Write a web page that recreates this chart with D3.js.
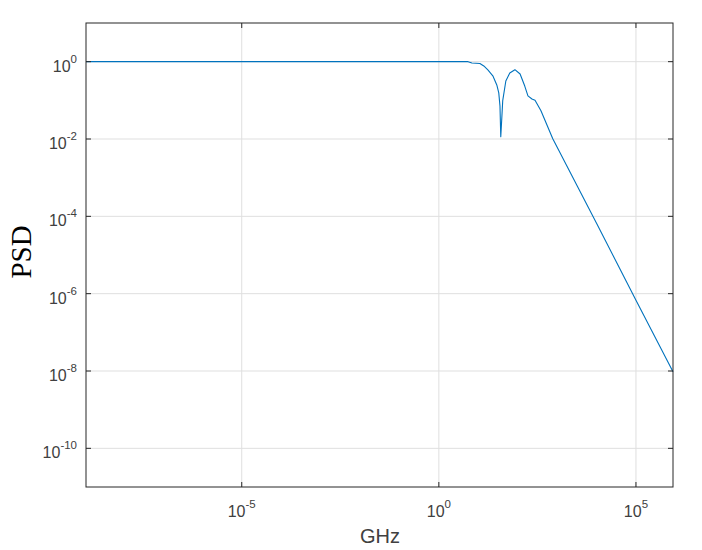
<!DOCTYPE html>
<html>
<head>
<meta charset="utf-8">
<script src="https://cdn.jsdelivr.net/npm/d3@7"></script>
<style>
  body { margin: 0; background: #fff; }
  svg { display: block; }
</style>
</head>
<body>
<svg id="chart" width="702" height="550"></svg>
<script>
// values (frequency in GHz, PSD)
let freqGHz = [1.12e-9, 5.5, 6.9, 11, 13.8, 17.5, 23.4, 29.5, 33.1, 35.5, 37.2, 39.8, 41.7,
    50, 63, 85, 115, 151, 182, 230, 275, 389, 776, 1e4, 1e5, 8.7e5];
let psd = [1, 1, 0.92, 0.90, 0.775, 0.61, 0.43, 0.25, 0.156, 0.072, 0.0115, 0.040, 0.098,
    0.316, 0.51, 0.62, 0.48, 0.234, 0.13, 0.108, 0.100, 0.054, 0.0101, 6.6e-5, 6.8e-7, 9.5e-9];

let xTicks = [1e-5, 1e0, 1e5];
let yTicks = [1e0, 1e-2, 1e-4, 1e-6, 1e-8, 1e-10];
let xDomain = [1.12e-9, 8.7e5];
let yDomain = [1e-11, 1e1];

let svg = d3.select("#chart");
let plotLeft = 86, plotTop = 23, plotRight = 673, plotBottom = 487;

let x = d3.scaleLog().domain(xDomain).range([plotLeft, plotRight]);
let y = d3.scaleLog().domain(yDomain).range([plotBottom, plotTop]);

let axisColor = "#262626";
let labelColor = "#404040";
let gridColor = "#dfdfdf";

// grid
svg.append("g").selectAll("line")
    .data(xTicks).enter().append("line")
    .attr("x1", d => x(d)).attr("x2", d => x(d))
    .attr("y1", plotTop).attr("y2", plotBottom)
    .attr("stroke", gridColor).attr("stroke-width", 1);

svg.append("g").selectAll("line")
    .data(yTicks).enter().append("line")
    .attr("x1", plotLeft).attr("x2", plotRight)
    .attr("y1", d => y(d)).attr("y2", d => y(d))
    .attr("stroke", gridColor).attr("stroke-width", 1);

// curve
let line = d3.line()
    .x((d, i) => x(freqGHz[i]))
    .y(d => y(d));

svg.append("path")
    .datum(psd)
    .attr("d", line)
    .attr("fill", "none")
    .attr("stroke", "#0072BD")
    .attr("stroke-width", 1.1)
    .attr("stroke-linejoin", "round");

// box
svg.append("rect")
    .attr("x", plotLeft).attr("y", plotTop)
    .attr("width", plotRight - plotLeft).attr("height", plotBottom - plotTop)
    .attr("fill", "none").attr("stroke", axisColor).attr("stroke-width", 1);

// ticks (inward, mirrored)
let tickLen = 5;
let tk = svg.append("g").attr("stroke", axisColor).attr("stroke-width", 1);
xTicks.forEach(d => {
    tk.append("line").attr("x1", x(d)).attr("x2", x(d)).attr("y1", plotBottom).attr("y2", plotBottom - tickLen);
    tk.append("line").attr("x1", x(d)).attr("x2", x(d)).attr("y1", plotTop).attr("y2", plotTop + tickLen);
});
yTicks.forEach(d => {
    tk.append("line").attr("x1", plotLeft).attr("x2", plotLeft + tickLen).attr("y1", y(d)).attr("y2", y(d));
    tk.append("line").attr("x1", plotRight).attr("x2", plotRight - tickLen).attr("y1", y(d)).attr("y2", y(d));
});

// tick labels with superscripts
function powLabel(g, d) {
    let e = Math.round(Math.log10(d));
    g.append("tspan").text("10");
    g.append("tspan").attr("dy", -9).attr("font-size", 11.5).text(e);
}

svg.append("g").selectAll("text")
    .data(xTicks).enter().append("text")
    .attr("x", d => x(d)).attr("y", 517)
    .attr("text-anchor", "middle")
    .attr("font-family", "Liberation Sans, Arial, sans-serif")
    .attr("font-size", 16).attr("fill", labelColor)
    .each(function(d) { powLabel(d3.select(this), d); });

svg.append("g").selectAll("text")
    .data(yTicks).enter().append("text")
    .attr("x", 77).attr("y", d => y(d) + 10)
    .attr("text-anchor", "end")
    .attr("font-family", "Liberation Sans, Arial, sans-serif")
    .attr("font-size", 16).attr("fill", labelColor)
    .each(function(d) { powLabel(d3.select(this), d); });

// axis labels
svg.append("text")
    .attr("x", 380).attr("y", 543)
    .attr("text-anchor", "middle")
    .attr("font-family", "Liberation Sans, Arial, sans-serif")
    .attr("font-size", 20).attr("fill", labelColor)
    .text("GHz");

svg.append("text")
    .attr("transform", "translate(31,252) rotate(-90)")
    .attr("text-anchor", "middle")
    .attr("font-family", "Liberation Serif, Times New Roman, serif")
    .attr("font-size", 29).attr("fill", "#000")
    .text("PSD");
</script>
</body>
</html>
